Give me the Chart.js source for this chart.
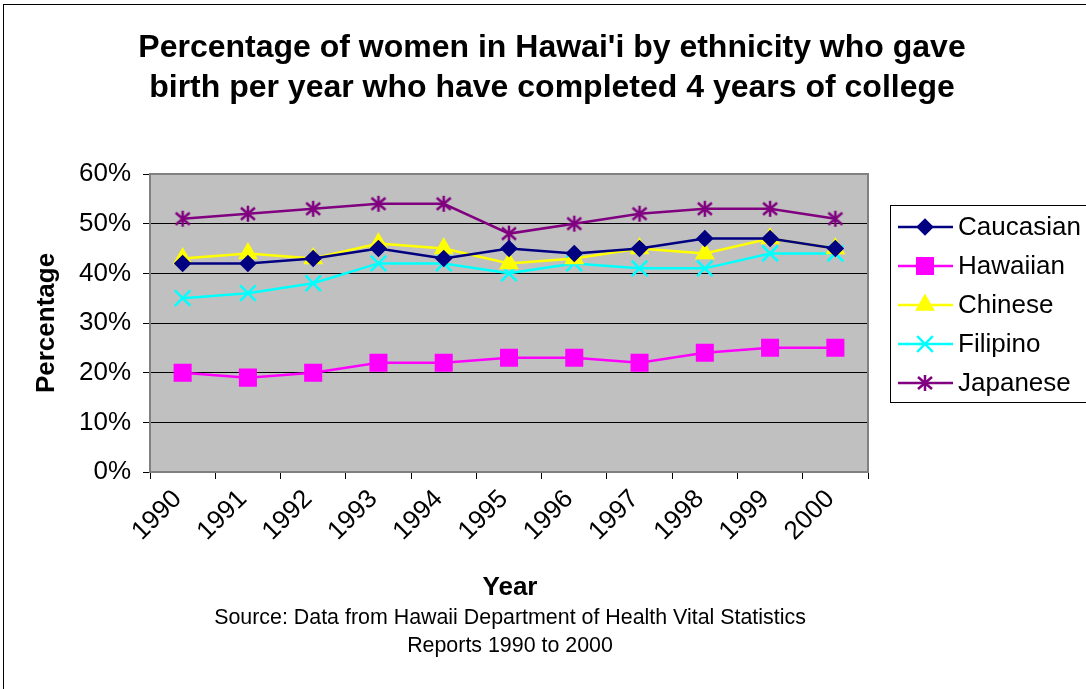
<!DOCTYPE html>
<html>
<head>
<meta charset="utf-8">
<script src="https://cdn.jsdelivr.net/npm/chart.js@4/dist/chart.umd.min.js"></script>
<style>
  body { margin: 0; background: #fff; }
  canvas { display: block; }
</style>
</head>
<body>
<canvas id="birthChart" width="1086" height="689"></canvas>
<script>
// Percent of mothers with 4+ years of college, by ethnicity
const years = ['1990', '1991', '1992', '1993', '1994', '1995', '1996', '1997', '1998', '1999', '2000'];
const caucasian = [42, 42, 43, 45, 43, 45, 44, 45, 47, 47, 45];
const hawaiian = [20, 19, 20, 22, 22, 23, 23, 22, 24, 25, 25];
const chinese = [43, 44, 43, 46, 45, 42, 43, 45, 44, 47, 45];
const filipino = [35, 36, 38, 42, 42, 40, 42, 41, 41, 44, 44];
const japanese = [51, 52, 53, 54, 54, 48, 50, 52, 53, 53, 51];
const yMax = 60;
const yStep = 10;

const titleLines = [
  "Percentage of women in Hawai'i by ethnicity who gave",
  'birth per year who have completed 4 years of college'
];
const sourceLines = [
  'Source: Data from Hawaii Department of Health Vital Statistics',
  'Reports 1990 to 2000'
];

const FONT = 'Arial, "Liberation Sans", sans-serif';
Chart.defaults.font.family = FONT;
Chart.defaults.color = '#000';

// six-armed asterisk marker (X plus vertical bar)
function asterisk(color) {
  const c = document.createElement('canvas');
  c.width = 20;
  c.height = 20;
  const g = c.getContext('2d');
  g.strokeStyle = color;
  g.lineWidth = 2.5;
  g.beginPath();
  g.moveTo(10, 2); g.lineTo(10, 18);
  g.moveTo(3, 4); g.lineTo(17, 16);
  g.moveTo(17, 4); g.lineTo(3, 16);
  g.stroke();
  return c;
}

function series(label, data, color, pointStyle, radius) {
  return {
    label,
    data,
    borderColor: color,
    backgroundColor: color,
    pointBackgroundColor: color,
    pointBorderColor: color,
    borderWidth: 2.5,
    pointStyle,
    pointRadius: radius,
    pointHoverRadius: radius,
    pointBorderWidth: 2.5,
    tension: 0,
    fill: false
  };
}

// gray plot area, frame, titles and the boxed legend
const decorations = {
  id: 'decorations',
  beforeDraw(chart) {
    const { ctx, chartArea: a, width, height } = chart;
    ctx.save();
    ctx.fillStyle = '#fff';
    ctx.fillRect(0, 0, width, height);
    ctx.strokeStyle = '#000';
    ctx.lineWidth = 1;
    ctx.strokeRect(3.5, 4.5, width + 10, height + 10);
    ctx.fillStyle = '#c0c0c0';
    ctx.fillRect(a.left, a.top, a.right - a.left, a.bottom - a.top);
    ctx.restore();
  },
  beforeDatasetsDraw(chart) {
    const { ctx, chartArea: a } = chart;
    ctx.save();
    ctx.strokeStyle = '#808080';
    ctx.lineWidth = 2;
    ctx.strokeRect(a.left, a.top, a.right - a.left, a.bottom - a.top);
    ctx.restore();
  },
  afterDraw(chart) {
    const { ctx, chartArea: a } = chart;
    ctx.save();
    ctx.fillStyle = '#000';
    ctx.textAlign = 'center';
    ctx.textBaseline = 'middle';

    ctx.font = 'bold 32px ' + FONT;
    titleLines.forEach((t, i) => ctx.fillText(t, 552, 48 + i * 40));

    ctx.font = 'bold 26px ' + FONT;
    ctx.fillText('Year', 510, 588);

    ctx.font = '21.4px ' + FONT;
    sourceLines.forEach((t, i) => ctx.fillText(t, 510, 618 + i * 28));

    ctx.save();
    ctx.translate(47, (a.top + a.bottom) / 2);
    ctx.rotate(-Math.PI / 2);
    ctx.font = 'bold 26px ' + FONT;
    ctx.fillText('Percentage', 0, 0);
    ctx.restore();

    // legend
    const lx = 890, ly = 205, lw = 200, lh = 197;
    ctx.strokeStyle = '#000';
    ctx.lineWidth = 1;
    ctx.strokeRect(lx + 0.5, ly + 0.5, lw, lh);
    ctx.font = '26px ' + FONT;
    ctx.textAlign = 'left';
    chart.data.datasets.forEach((ds, i) => {
      const y = ly + 22 + i * 39;
      ctx.strokeStyle = ds.borderColor;
      ctx.lineWidth = ds.borderWidth;
      ctx.beginPath();
      ctx.moveTo(898, y);
      ctx.lineTo(953, y);
      ctx.stroke();
      ctx.fillStyle = ds.pointBackgroundColor;
      ctx.strokeStyle = ds.pointBorderColor;
      ctx.lineWidth = ds.pointBorderWidth;
      Chart.helpers.drawPoint(ctx, {
        pointStyle: ds.pointStyle,
        radius: ds.pointRadius,
        rotation: 0,
        borderWidth: ds.pointBorderWidth
      }, 925, y);
      ctx.fillStyle = '#000';
      ctx.fillText(ds.label, 958, y + 1);
    });
    ctx.restore();
  }
};

const ctx = document.getElementById('birthChart').getContext('2d');
new Chart(ctx, {
  type: 'line',
  data: {
    labels: years,
    datasets: [
      series('Caucasian', caucasian, '#000080', 'rectRot', 7),
      series('Hawaiian', hawaiian, '#ff00ff', 'rect', 11),
      series('Chinese', chinese, '#ffff00', 'triangle', 9),
      series('Filipino', filipino, '#00ffff', 'crossRot', 11),
      series('Japanese', japanese, '#800080', asterisk('#800080'), 8)
    ]
  },
  options: {
    responsive: false,
    animation: false,
    layout: { padding: { top: 174, right: 218, left: 0, bottom: 0 } },
    plugins: {
      legend: { display: false },
      tooltip: { enabled: false }
    },
    scales: {
      x: {
        offset: true,
        afterFit: (s) => { s.height = 217; },
        border: { display: false },
        grid: {
          offset: true,
          drawOnChartArea: false,
          tickLength: 7,
          tickColor: '#000'
        },
        ticks: {
          minRotation: 45,
          maxRotation: 45,
          padding: 5,
          labelOffset: -5,
          color: '#000',
          font: { size: 26 }
        }
      },
      y: {
        min: 0,
        max: yMax,
        afterFit: (s) => { s.width = 150; },
        border: { display: false },
        grid: {
          color: '#000',
          lineWidth: 1,
          tickLength: 7,
          tickColor: '#000'
        },
        ticks: {
          stepSize: yStep,
          padding: 12,
          color: '#000',
          font: { size: 26 },
          callback: (v) => v + '%'
        }
      }
    }
  },
  plugins: [decorations]
});
</script>
</body>
</html>
